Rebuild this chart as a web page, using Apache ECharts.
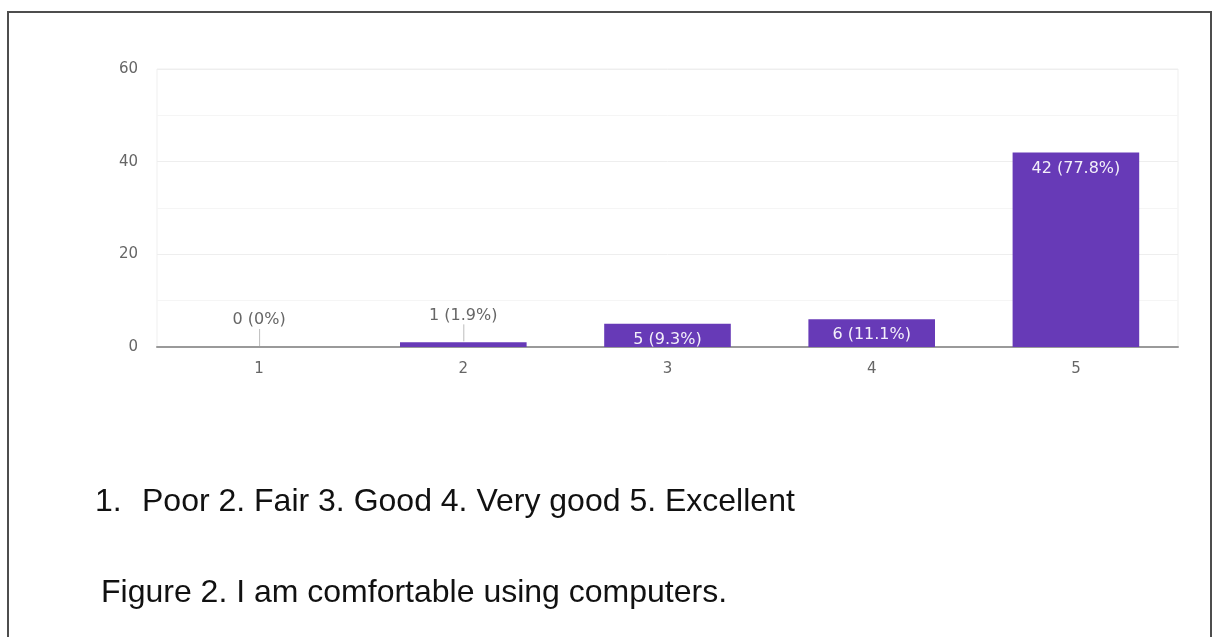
<!DOCTYPE html>
<html>
<head>
<meta charset="utf-8">
<title>Figure 2</title>
<script src="https://cdn.jsdelivr.net/npm/echarts@6/dist/echarts.min.js"></script>
<style>
  html, body { margin: 0; padding: 0; background: #ffffff; }
  #chart { width: 1217px; height: 637px; }
</style>
</head>
<body>
<div id="chart"></div>
<script>
// Ratings 1..5 and how many respondents picked each
const categories = ['1', '2', '3', '4', '5'];
const counts = [0, 1, 5, 6, 42];
const shares = ['0%', '1.9%', '9.3%', '11.1%', '77.8%'];
const yTicks = [0, 20, 40, 60];
const scaleText = 'Poor 2. Fair 3. Good 4. Very good 5. Excellent';
const captionText = 'Figure 2. I am comfortable using computers.';

const BAR = '#673ab7';
const LABEL_FONT = 'DejaVu Sans';
const CAPTION_FONT = '32px "Liberation Sans", Arial, sans-serif';

// Short bars get their label above them with a small leader line
const OUTSIDE_LIMIT = 3;
const labelText = i => counts[i] + ' (' + shares[i] + ')';

const barData = counts.map((v, i) => ({
  value: v,
  label: {
    show: v >= OUTSIDE_LIMIT,
    formatter: labelText(i)
  }
}));

const outsideData = counts
  .map((v, i) => [i, v])
  .filter(d => d[1] < OUTSIDE_LIMIT);

const chart = echarts.init(document.getElementById('chart'), null, { renderer: 'canvas' });

chart.setOption({
  animation: false,
  backgroundColor: '#ffffff',
  grid: {
    left: 157, right: 39, top: 69, bottom: 290,
    show: true, borderColor: '#efefef', borderWidth: 1, backgroundColor: 'transparent'
  },
  xAxis: {
    type: 'category',
    data: categories,
    axisLine: { show: true, lineStyle: { color: '#9a9a9a', width: 2 } },
    axisTick: { show: false },
    axisLabel: { color: '#666', fontFamily: LABEL_FONT, fontSize: 15, margin: 15 },
    splitLine: { show: false }
  },
  yAxis: {
    type: 'value',
    min: yTicks[0],
    max: yTicks[yTicks.length - 1],
    interval: yTicks[1] - yTicks[0],
    axisLine: { show: false },
    axisTick: { show: false },
    axisLabel: { color: '#666', fontFamily: LABEL_FONT, fontSize: 15, margin: 19 },
    splitLine: { show: true, lineStyle: { color: '#eeeeee', width: 1 } },
    minorTick: { show: false, splitNumber: 2 },
    minorSplitLine: { show: true, lineStyle: { color: '#f5f5f5', width: 1 } }
  },
  series: [
    {
      type: 'bar',
      data: barData,
      barWidth: '62%',
      itemStyle: { color: BAR },
      label: {
        position: 'insideTop',
        distance: 8,
        color: 'rgba(255,255,255,0.92)',
        fontFamily: LABEL_FONT,
        fontSize: 16
      },
      z: 3
    },
    {
      type: 'custom',
      data: outsideData,
      z: 4,
      renderItem: function (params, api) {
        const idx = api.value(0);
        const v = api.value(1);
        const p = api.coord([idx, v]);
        return {
          type: 'group',
          children: [
            {
              type: 'line',
              shape: { x1: p[0] + 0.5, y1: p[1] - 1, x2: p[0] + 0.5, y2: p[1] - 18 },
              style: { stroke: '#bdbdbd', lineWidth: 1 }
            },
            {
              type: 'text',
              x: p[0],
              y: p[1] - 27,
              style: {
                text: labelText(idx),
                fill: '#666',
                font: '16px "' + LABEL_FONT + '"',
                textAlign: 'center',
                textVerticalAlign: 'middle'
              }
            }
          ]
        };
      }
    }
  ],
  graphic: [
    {
      type: 'rect',
      shape: { x: 8, y: 12, width: 1203, height: 700 },
      style: { fill: 'none', stroke: '#4d4d4d', lineWidth: 2 },
      silent: true
    },
    {
      type: 'text',
      x: 95, y: 502,
      style: { text: '1.', fill: '#111', font: CAPTION_FONT, textVerticalAlign: 'middle' }
    },
    {
      type: 'text',
      x: 142, y: 502,
      style: { text: scaleText, fill: '#111', font: CAPTION_FONT, textVerticalAlign: 'middle' }
    },
    {
      type: 'text',
      x: 101, y: 593,
      style: { text: captionText, fill: '#111', font: CAPTION_FONT, textVerticalAlign: 'middle' }
    }
  ]
});
</script>
</body>
</html>
